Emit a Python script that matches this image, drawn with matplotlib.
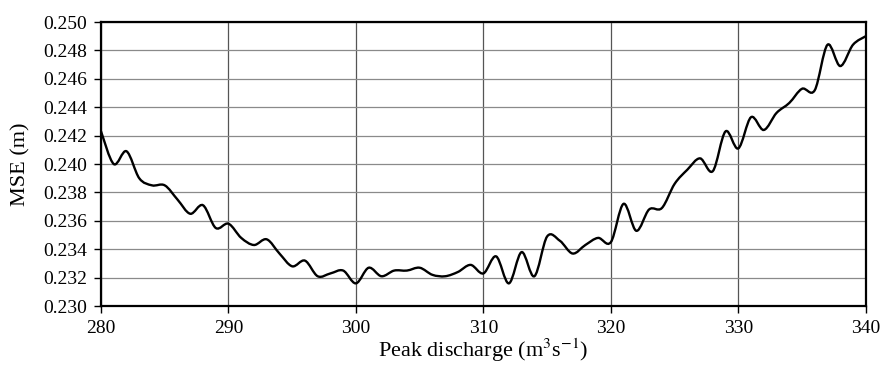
import numpy as np
import matplotlib
matplotlib.use('Agg')
import matplotlib.pyplot as plt
from matplotlib.path import Path
from matplotlib.patches import PathPatch

plt.rcParams['font.family'] = ['Liberation Serif', 'DejaVu Serif']
plt.rcParams['mathtext.fontset'] = 'stix'

# peak discharge (m3/s) and mean squared error (m)
discharge = list(range(280, 341))
mse = [
    0.2423, 0.2400, 0.2409, 0.2390, 0.2385, 0.2385, 0.2375, 0.2365, 0.2371, 0.2355,
    0.2358, 0.2348, 0.2343, 0.2347, 0.2337, 0.2328, 0.2332, 0.2321, 0.2323, 0.2325,
    0.2316, 0.2327, 0.2321, 0.2325, 0.2325, 0.2327, 0.2322, 0.2321, 0.2324, 0.2329,
    0.2323, 0.2335, 0.2316, 0.2338, 0.2321, 0.2349, 0.2346, 0.2337, 0.2343, 0.2348,
    0.2345, 0.2372, 0.2353, 0.2368, 0.2369, 0.2386, 0.2396, 0.2404, 0.2395, 0.2423,
    0.2411, 0.2433, 0.2424, 0.2436, 0.2443, 0.2453, 0.2452, 0.2484, 0.2469, 0.2484,
    0.2490,
]
x_ticks = [280, 290, 300, 310, 320, 330, 340]
y_ticks = [0.230, 0.232, 0.234, 0.236, 0.238, 0.240, 0.242, 0.244, 0.246, 0.248, 0.250]


def smooth_path(xs, ys):
    # Excel-style smoothed line: Catmull-Rom segments as cubic Beziers
    pts = np.column_stack([xs, ys]).astype(float)
    verts = [pts[0]]
    codes = [Path.MOVETO]
    n = len(pts)
    for i in range(n - 1):
        p0 = pts[max(i - 1, 0)]
        p1 = pts[i]
        p2 = pts[i + 1]
        p3 = pts[min(i + 2, n - 1)]
        c1 = p1 + (p2 - p0) / 6.0
        c2 = p2 - (p3 - p1) / 6.0
        verts += [c1, c2, p2]
        codes += [Path.CURVE4] * 3
    return Path(verts, codes)


fig = plt.figure(figsize=(8.8, 3.67), dpi=100)
ax = fig.add_axes([0.1148, 0.166, 0.869, 0.774])

ax.add_patch(PathPatch(smooth_path(discharge, mse), facecolor='none',
                       edgecolor='black', lw=1.7, zorder=3))

ax.set_xlim(280, 340)
ax.set_ylim(0.230, 0.250)
ax.set_xticks(x_ticks)
ax.set_yticks(y_ticks)
ax.set_yticklabels([f'{v:.3f}' for v in y_ticks])
ax.tick_params(labelsize=14, length=5, width=1, direction='out', colors='black')
ax.tick_params(axis='x', pad=5)
ax.tick_params(axis='y', pad=5)
ax.xaxis.grid(True, color='#555555', lw=0.9)
ax.yaxis.grid(True, color='#8a8a8a', lw=0.9)
ax.set_axisbelow(True)
for s in ax.spines.values():
    s.set_linewidth(1.6)
    s.set_color('black')

ax.set_xlabel(r'Peak discharge (m$^3$s$^{-1}$)', fontsize=16, labelpad=0)
ax.set_ylabel('MSE (m)', fontsize=16, labelpad=9)

fig.savefig('out.png', dpi=100)
